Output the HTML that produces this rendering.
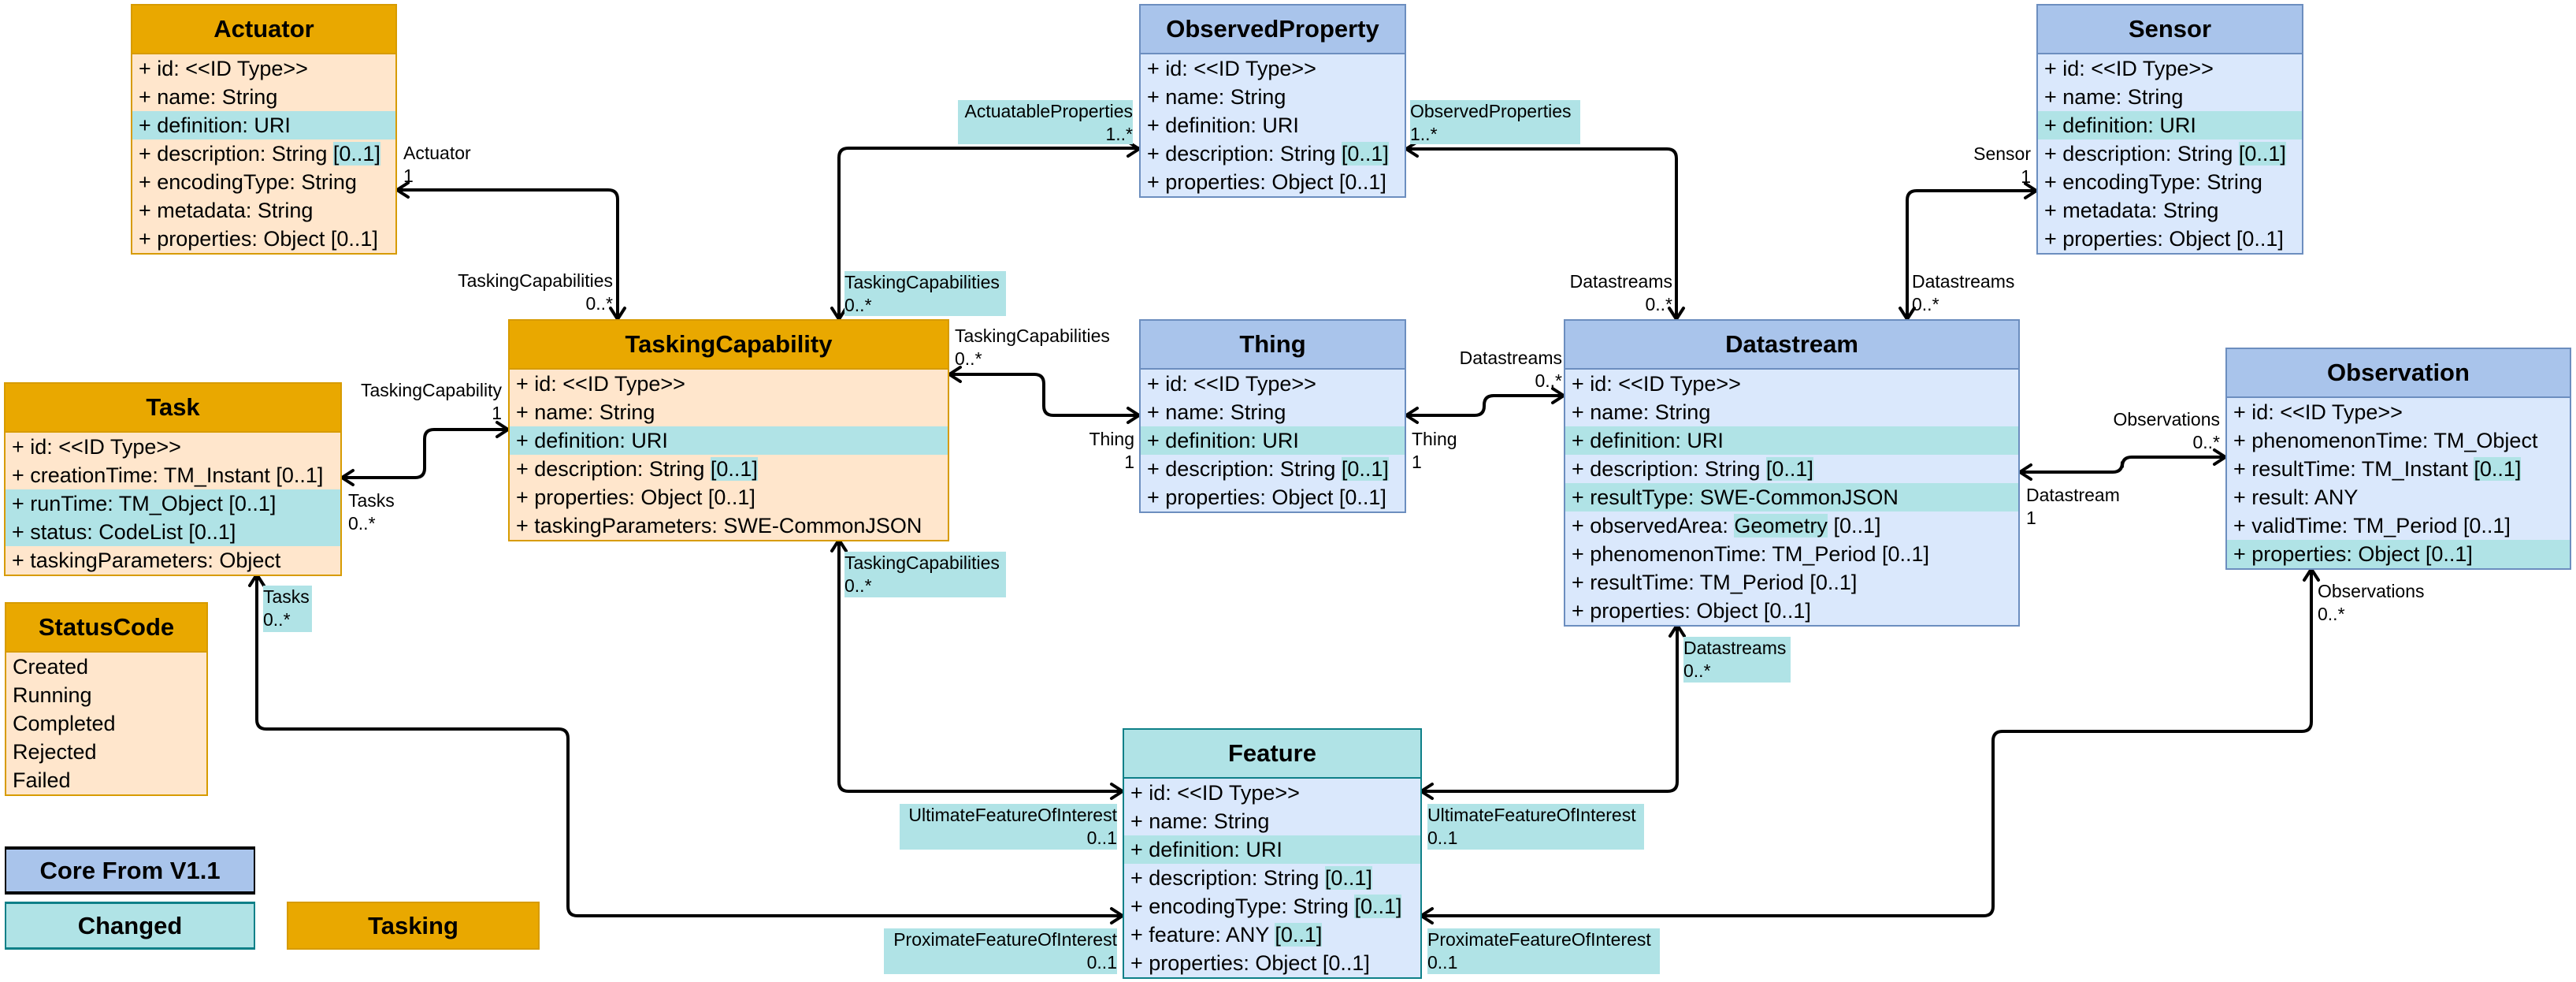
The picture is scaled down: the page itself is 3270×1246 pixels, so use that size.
<!DOCTYPE html>
<html><head><meta charset="utf-8">
<style>
*{box-sizing:border-box;margin:0;padding:0}
body{width:3270px;height:1246px;background:#fff;position:relative;overflow:hidden;font-family:"Liberation Sans",Arial,sans-serif;color:#000}
.box{position:absolute;border:2px solid #d79b00;background:#ffe6cc}
.box.b{border-color:#6c8ebf;background:#dae8fc}
.box.f{border-color:#0e8088;background:#dae8fc}
.hd{height:62px;display:flex;align-items:center;justify-content:center;font-weight:bold;font-size:31px;background:#e9a800;border-bottom:2px solid #d79b00}
.b .hd{background:#a9c4eb;border-bottom-color:#6c8ebf}
.f .hd{background:#b0e3e6;border-bottom-color:#0e8088}
.r{height:36px;line-height:36px;font-size:27px;padding-left:8px;white-space:nowrap}
.h{background:#b0e3e6}
.hl{background:#b0e3e6}
.lb{position:absolute;font-size:23px;line-height:29px;white-space:nowrap}
.rt{text-align:right}
.lg{position:absolute;display:flex;align-items:center;justify-content:center;font-weight:bold;font-size:31px}
</style></head><body>

<svg width="3270" height="1246" style="position:absolute;left:0;top:0" fill="none" stroke="#000" stroke-width="4" stroke-linejoin="round" stroke-linecap="round">
<path d="M504,241 H772 Q784,241 784,253 V405"/>
<path d="M1065,405 V200 Q1065,188 1077,188 H1446"/>
<path d="M1785,189 H2116 Q2128,189 2128,201 V405"/>
<path d="M2585,242 H2433 Q2421,242 2421,254 V405"/>
<path d="M434,606 H527 Q539,606 539,594 V557 Q539,545 551,545 H645"/>
<path d="M1205,475 H1313 Q1325,475 1325,487 V515 Q1325,527 1337,527 H1446"/>
<path d="M1785,527 H1872 Q1884,527 1884,515 V514 Q1884,502 1896,502 H1985"/>
<path d="M2564,599 H2682 Q2694,599 2694,587 V592 Q2694,580 2706,580 H2825"/>
<path d="M326,729 V913 Q326,925 338,925 H709 Q721,925 721,937 V1150 Q721,1162 733,1162 H1425"/>
<path d="M1065,685 V992 Q1065,1004 1077,1004 H1425"/>
<path d="M2129,793 V992 Q2129,1004 2117,1004 H1804"/>
<path d="M2934,722 V916 Q2934,928 2922,928 H2542 Q2530,928 2530,940 V1150 Q2530,1162 2518,1162 H1804"/>
<polyline points="518,232 504,241 518,250"/>
<polyline points="775,391 784,405 793,391"/>
<polyline points="1056,391 1065,405 1074,391"/>
<polyline points="1432,180 1446,189 1432,198"/>
<polyline points="1799,180 1785,189 1799,198"/>
<polyline points="2119,391 2128,405 2137,391"/>
<polyline points="2571,233 2585,242 2571,251"/>
<polyline points="2412,391 2421,405 2430,391"/>
<polyline points="448,597 434,606 448,615"/>
<polyline points="631,536 645,545 631,554"/>
<polyline points="1219,466 1205,475 1219,484"/>
<polyline points="1432,518 1446,527 1432,536"/>
<polyline points="1799,518 1785,527 1799,536"/>
<polyline points="1971,493 1985,502 1971,511"/>
<polyline points="2578,590 2564,599 2578,608"/>
<polyline points="2811,571 2825,580 2811,589"/>
<polyline points="317,743 326,729 335,743"/>
<polyline points="1411,1153 1425,1162 1411,1171"/>
<polyline points="1056,699 1065,685 1074,699"/>
<polyline points="1411,995 1425,1004 1411,1013"/>
<polyline points="2120,807 2129,793 2138,807"/>
<polyline points="1818,995 1804,1004 1818,1013"/>
<polyline points="2925,736 2934,722 2943,736"/>
<polyline points="1818,1153 1804,1162 1818,1171"/>
</svg>

<div class="box" style="left:166px;top:5px;width:338px">
<div class="hd">Actuator</div>
<div class="r">+ id: &lt;&lt;ID Type&gt;&gt;</div>
<div class="r">+ name: String</div>
<div class="r h">+ definition: URI</div>
<div class="r">+ description: String <span class="hl">[0..1]</span></div>
<div class="r">+ encodingType: String</div>
<div class="r">+ metadata: String</div>
<div class="r">+ properties: Object [0..1]</div>
</div>

<div class="box" style="left:645px;top:405px;width:560px">
<div class="hd">TaskingCapability</div>
<div class="r">+ id: &lt;&lt;ID Type&gt;&gt;</div>
<div class="r">+ name: String</div>
<div class="r h">+ definition: URI</div>
<div class="r">+ description: String <span class="hl">[0..1]</span></div>
<div class="r">+ properties: Object [0..1]</div>
<div class="r">+ taskingParameters: SWE-CommonJSON</div>
</div>

<div class="box" style="left:5px;top:485px;width:429px">
<div class="hd">Task</div>
<div class="r">+ id: &lt;&lt;ID Type&gt;&gt;</div>
<div class="r">+ creationTime: TM_Instant [0..1]</div>
<div class="r h">+ runTime: TM_Object [0..1]</div>
<div class="r h">+ status: CodeList [0..1]</div>
<div class="r">+ taskingParameters: Object</div>
</div>

<div class="box" style="left:6px;top:764px;width:258px">
<div class="hd">StatusCode</div>
<div class="r">Created</div>
<div class="r">Running</div>
<div class="r">Completed</div>
<div class="r">Rejected</div>
<div class="r">Failed</div>
</div>

<div class="box b" style="left:1446px;top:5px;width:339px">
<div class="hd">ObservedProperty</div>
<div class="r">+ id: &lt;&lt;ID Type&gt;&gt;</div>
<div class="r">+ name: String</div>
<div class="r">+ definition: URI</div>
<div class="r">+ description: String <span class="hl">[0..1]</span></div>
<div class="r">+ properties: Object [0..1]</div>
</div>

<div class="box b" style="left:2585px;top:5px;width:339px">
<div class="hd">Sensor</div>
<div class="r">+ id: &lt;&lt;ID Type&gt;&gt;</div>
<div class="r">+ name: String</div>
<div class="r h">+ definition: URI</div>
<div class="r">+ description: String <span class="hl">[0..1]</span></div>
<div class="r">+ encodingType: String</div>
<div class="r">+ metadata: String</div>
<div class="r">+ properties: Object [0..1]</div>
</div>

<div class="box b" style="left:1446px;top:405px;width:339px">
<div class="hd">Thing</div>
<div class="r">+ id: &lt;&lt;ID Type&gt;&gt;</div>
<div class="r">+ name: String</div>
<div class="r h">+ definition: URI</div>
<div class="r">+ description: String <span class="hl">[0..1]</span></div>
<div class="r">+ properties: Object [0..1]</div>
</div>

<div class="box b" style="left:1985px;top:405px;width:579px">
<div class="hd">Datastream</div>
<div class="r">+ id: &lt;&lt;ID Type&gt;&gt;</div>
<div class="r">+ name: String</div>
<div class="r h">+ definition: URI</div>
<div class="r">+ description: String <span class="hl">[0..1]</span></div>
<div class="r h">+ resultType: SWE-CommonJSON</div>
<div class="r">+ observedArea: <span class="hl">Geometry</span> [0..1]</div>
<div class="r">+ phenomenonTime: TM_Period [0..1]</div>
<div class="r">+ resultTime: TM_Period [0..1]</div>
<div class="r">+ properties: Object [0..1]</div>
</div>

<div class="box b" style="left:2825px;top:441px;width:439px">
<div class="hd">Observation</div>
<div class="r">+ id: &lt;&lt;ID Type&gt;&gt;</div>
<div class="r">+ phenomenonTime: TM_Object</div>
<div class="r">+ resultTime: TM_Instant <span class="hl">[0..1]</span></div>
<div class="r">+ result: ANY</div>
<div class="r">+ validTime: TM_Period [0..1]</div>
<div class="r h">+ properties: Object [0..1]</div>
</div>

<div class="box f" style="left:1425px;top:924px;width:380px">
<div class="hd">Feature</div>
<div class="r">+ id: &lt;&lt;ID Type&gt;&gt;</div>
<div class="r">+ name: String</div>
<div class="r h">+ definition: URI</div>
<div class="r">+ description: String <span class="hl">[0..1]</span></div>
<div class="r">+ encodingType: String <span class="hl">[0..1]</span></div>
<div class="r">+ feature: ANY <span class="hl">[0..1]</span></div>
<div class="r">+ properties: Object [0..1]</div>
</div>

<div class="lg" style="left:6px;top:1074px;width:318px;height:61px;background:#a9c4eb;border:2px solid #000;border-top-width:4px;border-bottom-width:4px">Core From V1.1</div>
<div class="lg" style="left:6px;top:1144px;width:318px;height:61px;background:#b0e3e6;border:2px solid #0e8088;border-top-width:3px;border-bottom-width:3px">Changed</div>
<div class="lg" style="left:364px;top:1144px;width:321px;height:61px;background:#e9a800;border:2px solid #d79b00">Tasking</div>

<div class="lb" style="left:512px;top:180px">Actuator<br>1</div>
<div class="lb rt" style="right:2492px;top:342px">TaskingCapabilities<br>0..*</div>
<div class="lb hl" style="left:1072px;top:344px;width:205px;height:57px">TaskingCapabilities<br>0..*</div>
<div class="lb hl rt" style="left:1216px;top:127px;width:222px;height:56px">ActuatableProperties<br>1..*</div>
<div class="lb hl" style="left:1790px;top:127px;width:216px;height:56px">ObservedProperties<br>1..*</div>
<div class="lb rt" style="right:1147px;top:343px">Datastreams<br>0..*</div>
<div class="lb rt" style="right:692px;top:181px">Sensor<br>1</div>
<div class="lb" style="left:2427px;top:343px">Datastreams<br>0..*</div>
<div class="lb" style="left:1212px;top:412px">TaskingCapabilities<br>0..*</div>
<div class="lb rt" style="right:2633px;top:481px">TaskingCapability<br>1</div>
<div class="lb" style="left:442px;top:621px">Tasks<br>0..*</div>
<div class="lb rt" style="right:1830px;top:543px">Thing<br>1</div>
<div class="lb" style="left:1792px;top:543px">Thing<br>1</div>
<div class="lb rt" style="right:1287px;top:440px">Datastreams<br>0..*</div>
<div class="lb rt" style="right:452px;top:518px">Observations<br>0..*</div>
<div class="lb" style="left:2572px;top:614px">Datastream<br>1</div>
<div class="lb" style="left:2942px;top:736px">Observations<br>0..*</div>
<div class="lb hl" style="left:1072px;top:700px;width:205px;height:58px">TaskingCapabilities<br>0..*</div>
<div class="lb hl" style="left:334px;top:743px;width:62px;height:59px">Tasks<br>0..*</div>
<div class="lb hl" style="left:2137px;top:808px;width:136px;height:58px">Datastreams<br>0..*</div>
<div class="lb hl rt" style="left:1142px;top:1020px;width:276px;height:58px">UltimateFeatureOfInterest<br>0..1</div>
<div class="lb hl" style="left:1812px;top:1020px;width:275px;height:58px">UltimateFeatureOfInterest<br>0..1</div>
<div class="lb hl rt" style="left:1122px;top:1178px;width:296px;height:58px">ProximateFeatureOfInterest<br>0..1</div>
<div class="lb hl" style="left:1812px;top:1178px;width:295px;height:58px">ProximateFeatureOfInterest<br>0..1</div>

</body></html>
